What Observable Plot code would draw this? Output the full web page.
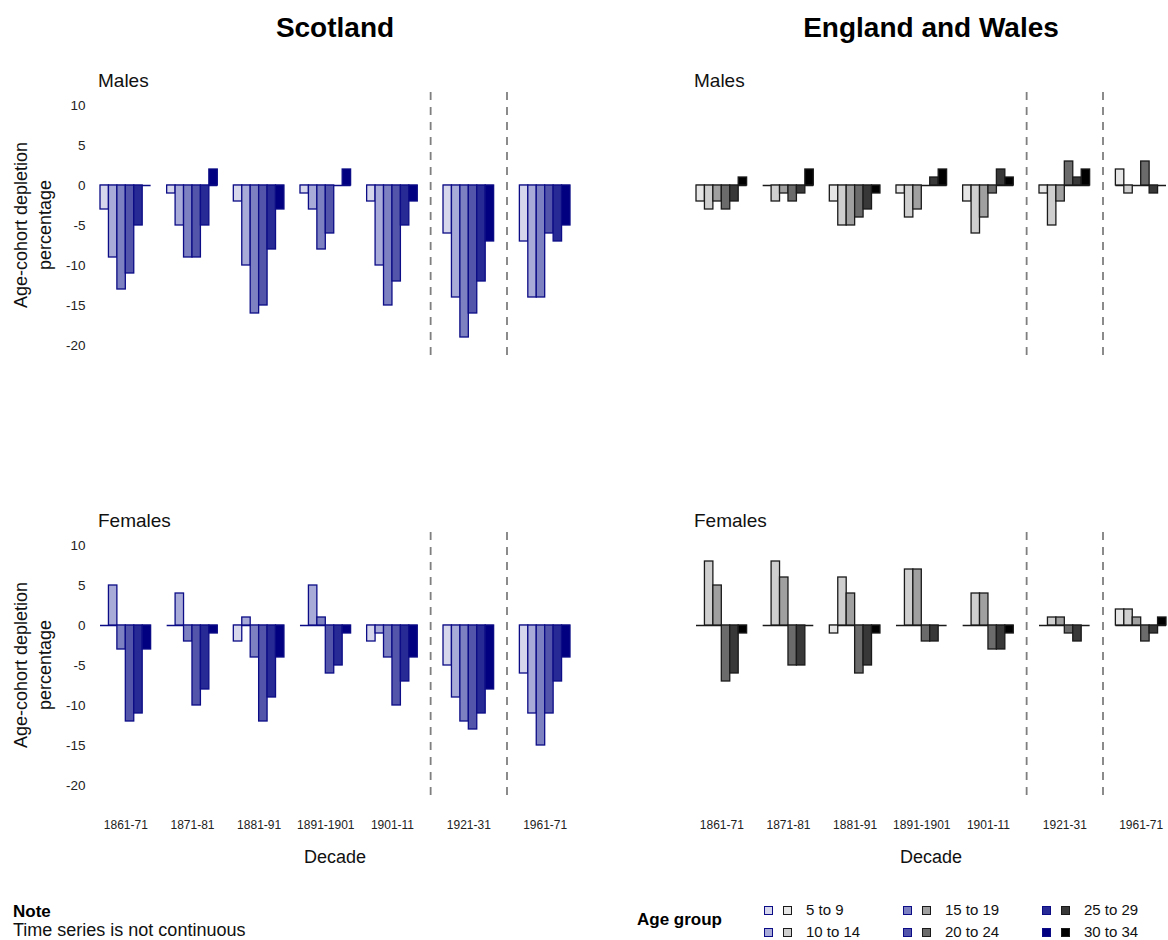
<!DOCTYPE html>
<html>
<head>
<meta charset="utf-8">
<script src="https://cdn.jsdelivr.net/npm/d3@7"></script>
<script src="https://cdn.jsdelivr.net/npm/@observablehq/plot@0.6"></script>
<style>
  body { margin: 0; background: #fff; font-family: "Liberation Sans", Arial, sans-serif; color: #111; }
  #root { position: relative; width: 1168px; height: 940px; overflow: hidden; background: #fff; }
  .abs { position: absolute; white-space: nowrap; line-height: 1; }
  .title { font-size: 28px; font-weight: bold; text-align: center; color: #000; }
  .sub { font-size: 19px; color: #111; }
  .xlab { font-size: 18px; text-align: center; color: #111; }
  .ylab { font-size: 18px; line-height: 24px; text-align: center; color: #111; transform: translate(-50%, -50%) rotate(-90deg); }
  .sw { position: absolute; width: 9px; height: 9px; box-sizing: border-box; border: 1.5px solid; }
  .leglab { font-size: 15px; color: #111; }
  svg [aria-label^="y-axis"] text { font-size: 13.5px; }
  svg [aria-label^="x-axis"] text { font-size: 12px; }
</style>
</head>
<body>
<div id="root"></div>
<script>
// ---------------- DATA ----------------
const decades = ["1861-71", "1871-81", "1881-91", "1891-1901", "1901-11", "1921-31", "1961-71"];
const ageGroups = ["5 to 9", "10 to 14", "15 to 19", "20 to 24", "25 to 29", "30 to 34"];
const yTickValues = [10, 5, 0, -5, -10, -15, -20];

// one row per decade, one value per age group
const scotlandMales = [
  [-3, -9, -13, -11, -5, 0],
  [-1, -5, -9, -9, -5, 2],
  [-2, -10, -16, -15, -8, -3],
  [-1, -3, -8, -6, 0, 2],
  [-2, -10, -15, -12, -5, -2],
  [-6, -14, -19, -16, -12, -7],
  [-7, -14, -14, -6, -7, -5]
];
const scotlandFemales = [
  [0, 5, -3, -12, -11, -3],
  [0, 4, -2, -10, -8, -1],
  [-2, 1, -4, -12, -9, -4],
  [0, 5, 1, -6, -5, -1],
  [-2, -1, -4, -10, -7, -4],
  [-5, -9, -12, -13, -11, -8],
  [-6, -11, -15, -11, -7, -4]
];
const ewMales = [
  [-2, -3, -2, -3, -2, 1],
  [0, -2, -1, -2, -1, 2],
  [-2, -5, -5, -4, -3, -1],
  [-1, -4, -3, 0, 1, 2],
  [-2, -6, -4, -1, 2, 1],
  [-1, -5, -2, 3, 1, 2],
  [2, -1, 0, 3, -1, 0]
];
const ewFemales = [
  [0, 8, 5, -7, -6, -1],
  [0, 8, 6, -5, -5, 0],
  [-1, 6, 4, -6, -5, -1],
  [0, 7, 7, -2, -2, 0],
  [0, 4, 4, -3, -3, -1],
  [0, 1, 1, -1, -2, 0],
  [2, 2, 1, -2, -1, 1]
];

// ---------------- STYLE ----------------
const bluePalette = ["#d6d7ec", "#a8aad7", "#7d80c1", "#5255a9", "#272a95", "#000080"];
const greyPalette = ["#e6e6e6", "#cfcfcf", "#a0a0a0", "#6b6b6b", "#383838", "#000000"];
const blueStroke = "#0c0c86";
const greyStroke = "#1a1a1a";
const FONT = "'Liberation Sans', Arial, sans-serif";

// ---------------- LAYOUT (in bar units) ----------------
const GAP = 1.9, BREAK_GAP = 3.05;
const nAge = ageGroups.length;
function startYear(d) { return +d.split("-")[0]; }
function endYear(d) {
  const [s, e] = d.split("-");
  return +(s.slice(0, 4 - e.length) + e);
}
const starts = [];
const breakPositions = [];
decades.forEach((d, i) => {
  if (i === 0) { starts.push(0); return; }
  const isBreak = startYear(d) !== endYear(decades[i - 1]);
  const g = isBreak ? BREAK_GAP : GAP;
  const s = starts[i - 1] + nAge + g;
  starts.push(s);
  if (isBreak) breakPositions.push(s - g / 2);
});
const total = starts[starts.length - 1] + nAge;
const centers = starts.map(s => s + nAge / 2);
const groups = decades.map((d, i) => ({decade: d, x1: starts[i], x2: starts[i] + nAge}));

function rowsFor(values) {
  const rows = [];
  decades.forEach((d, i) => ageGroups.forEach((a, j) => {
    rows.push({decade: d, age: a, value: values[i][j], x1: starts[i] + j, x2: starts[i] + j + 1});
  }));
  return rows;
}

function panel({values, palette, stroke, showY, showX, width, marginLeft, marginRight, marginBottom}) {
  const marginTop = 10;
  const frameH = 266;
  return Plot.plot({
    width,
    height: marginTop + frameH + marginBottom,
    marginTop, marginBottom, marginLeft, marginRight,
    style: {fontFamily: FONT, fontSize: "12.5px", color: "#222", background: "transparent", overflow: "visible"},
    x: {
      domain: [0, total],
      ticks: centers,
      tickFormat: v => decades[centers.indexOf(v)],
      tickSize: 0,
      tickPadding: 22,
      label: null,
      axis: showX ? "bottom" : null
    },
    y: {
      domain: [-21.625, 11.625],
      ticks: yTickValues,
      tickFormat: d => String(d),
      tickSize: 0,
      tickPadding: 15,
      label: null,
      axis: showY ? "left" : null
    },
    color: {domain: ageGroups, range: palette},
    marks: [
      Plot.ruleX(breakPositions, {x: d => d, stroke: "#7f7f7f", strokeWidth: 1.8, strokeDasharray: "8,7"}),
      Plot.ruleY(groups, {y: 0, x1: "x1", x2: "x2", stroke, strokeWidth: 1.3}),
      Plot.rect(rowsFor(values), {x1: "x1", x2: "x2", y1: 0, y2: "value", fill: "age", stroke, strokeWidth: 1.3})
    ]
  });
}

// ---------------- ASSEMBLE ----------------
const root = document.getElementById("root");
function place(el, left, top) {
  const w = document.createElement("div");
  w.style.position = "absolute";
  w.style.left = left + "px";
  w.style.top = top + "px";
  w.appendChild(el);
  root.appendChild(w);
}
function text(html, cls, styles) {
  const d = document.createElement("div");
  d.className = "abs " + cls;
  d.innerHTML = html;
  Object.assign(d.style, styles);
  root.appendChild(d);
  return d;
}

const scot = {left: 0, width: 584, marginLeft: 100, marginRight: 14};
const ew = {left: 596, width: 572, marginLeft: 100, marginRight: 2};

place(panel({values: scotlandMales, palette: bluePalette, stroke: blueStroke, showY: true, showX: false, width: scot.width, marginLeft: scot.marginLeft, marginRight: scot.marginRight, marginBottom: 10}), scot.left, 82);
place(panel({values: scotlandFemales, palette: bluePalette, stroke: blueStroke, showY: true, showX: true, width: scot.width, marginLeft: scot.marginLeft, marginRight: scot.marginRight, marginBottom: 45}), scot.left, 522);
place(panel({values: ewMales, palette: greyPalette, stroke: greyStroke, showY: false, showX: false, width: ew.width, marginLeft: ew.marginLeft, marginRight: ew.marginRight, marginBottom: 10}), ew.left, 82);
place(panel({values: ewFemales, palette: greyPalette, stroke: greyStroke, showY: false, showX: true, width: ew.width, marginLeft: ew.marginLeft, marginRight: ew.marginRight, marginBottom: 45}), ew.left, 522);

// titles
const scotFrameL = scot.left + scot.marginLeft, scotFrameW = scot.width - scot.marginLeft - scot.marginRight;
const ewFrameL = ew.left + ew.marginLeft, ewFrameW = ew.width - ew.marginLeft - ew.marginRight;
text("Scotland", "title", {left: scotFrameL + "px", width: scotFrameW + "px", top: "14px"});
text("England and Wales", "title", {left: ewFrameL + "px", width: ewFrameW + "px", top: "14px"});
text("Males", "sub", {left: "98px", top: "71px"});
text("Females", "sub", {left: "98px", top: "511px"});
text("Males", "sub", {left: "694px", top: "71px"});
text("Females", "sub", {left: "694px", top: "511px"});
text("Decade", "xlab", {left: scotFrameL + "px", width: scotFrameW + "px", top: "848px"});
text("Decade", "xlab", {left: ewFrameL + "px", width: ewFrameW + "px", top: "848px"});
text("Age-cohort depletion<br>percentage", "ylab", {left: "33px", top: "225px"});
text("Age-cohort depletion<br>percentage", "ylab", {left: "33px", top: "665px"});

// note
text("Note", "", {left: "13px", top: "903px", fontSize: "17px", fontWeight: "bold", color: "#000"});
text("Time series is not continuous", "", {left: "13px", top: "921px", fontSize: "18px", color: "#111"});

// legend
text("Age group", "", {left: "637px", top: "911px", fontSize: "17px", fontWeight: "bold", color: "#000"});
const legCols = [764, 903, 1042];
const legRows = [906, 928];
ageGroups.forEach((a, k) => {
  const col = Math.floor(k / 2), row = k % 2;
  const x = legCols[col], y = legRows[row];
  const b = document.createElement("div");
  b.className = "sw";
  Object.assign(b.style, {left: x + "px", top: y + "px", background: bluePalette[k], borderColor: blueStroke});
  root.appendChild(b);
  const g = document.createElement("div");
  g.className = "sw";
  Object.assign(g.style, {left: (x + 19) + "px", top: y + "px", background: greyPalette[k], borderColor: greyStroke});
  root.appendChild(g);
  text(a, "leglab", {left: (x + 42) + "px", top: (y - 4) + "px"});
});
</script>
</body>
</html>
